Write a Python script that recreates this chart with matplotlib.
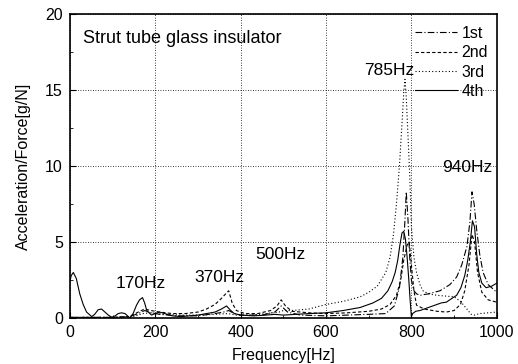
import matplotlib
matplotlib.use('Agg')
import matplotlib.pyplot as plt
from matplotlib.ticker import MultipleLocator

plt.rcParams['font.family'] = ['Liberation Sans', 'DejaVu Sans']

# 1st mode (dash-dot)
f1 = [0, 50, 100, 140, 160, 175, 190, 210, 250, 300, 340, 360, 372, 385, 400, 450,
      480, 495, 510, 540, 600, 650, 700, 740, 760, 772, 780, 785, 788, 792, 796, 800,
      806, 812, 820, 840, 867, 890, 906, 918, 930, 937, 942, 947, 953, 960, 968, 980, 1000]
v1 = [0.05, 0.05, 0.05, 0.1, 0.3, 0.5, 0.35, 0.25, 0.15, 0.15, 0.3, 0.4, 0.5, 0.3, 0.2, 0.2,
      0.4, 0.8, 0.4, 0.2, 0.15, 0.2, 0.25, 0.3, 0.8, 2.0, 4.0, 6.5, 8.3, 6.5, 4.0, 2.5,
      1.8, 1.6, 1.5, 1.6, 1.8, 2.2, 2.7, 3.5, 4.7, 6.3, 8.3, 7.5, 5.8, 4.2, 3.0, 2.2, 1.7]

# 2nd mode (dashed)
f2 = [0, 50, 100, 140, 160, 175, 190, 210, 240, 270, 300, 320, 340, 355, 365, 372,
      380, 390, 410, 440, 470, 485, 495, 505, 520, 560, 600, 650, 700, 730, 750, 765,
      775, 782, 790, 795, 800, 806, 812, 830, 860, 882, 900, 915, 925, 935, 942, 948,
      955, 965, 980, 1000]
v2 = [0.05, 0.05, 0.05, 0.1, 0.4, 0.6, 0.5, 0.4, 0.3, 0.3, 0.4, 0.6, 0.9, 1.3, 1.6, 1.8,
      1.0, 0.5, 0.3, 0.3, 0.5, 0.8, 1.2, 0.8, 0.45, 0.35, 0.3, 0.35, 0.45, 0.6, 0.9, 1.5,
      2.5, 3.8, 4.8, 5.0, 3.5, 1.8, 0.85, 0.6, 0.45, 0.4, 0.5, 0.9, 1.8, 3.5, 5.5, 5.0,
      3.0, 1.7, 1.2, 1.05]

# 3rd mode (dotted)
f3 = [0, 50, 100, 150, 170, 190, 220, 260, 300, 340, 370, 390, 420, 460, 490, 500,
      520, 560, 600, 640, 680, 700, 720, 740, 750, 758, 765, 772, 778, 782, 785, 788,
      792, 796, 800, 806, 812, 820, 827, 840, 860, 880, 900, 915, 930, 940, 948, 960,
      980, 1000]
v3 = [0.05, 0.05, 0.05, 0.1, 0.3, 0.35, 0.25, 0.2, 0.2, 0.25, 0.3, 0.2, 0.2, 0.3, 0.4, 0.5,
      0.5, 0.6, 0.9, 1.1, 1.4, 1.7, 2.1, 3.0, 4.0, 5.5, 7.5, 10.0, 12.8, 14.8, 15.7, 14.5,
      12.0, 9.5, 6.0, 4.0, 3.0, 2.2, 1.8, 1.6, 1.5, 1.45, 1.4, 1.1, 0.6, 0.25, 0.2, 0.3,
      0.35, 0.4]

# 4th mode (solid)
f4 = [0, 3, 8, 15, 23, 31, 39, 51, 58, 66, 74, 82, 90, 98, 106, 113, 121, 129, 135, 140,
      148, 156, 163, 170, 175, 180, 191, 200, 210, 222, 240, 260, 280, 300, 320, 340, 355,
      367, 375, 385, 400, 430, 460, 480, 500, 530, 560, 600, 640, 680, 710, 730, 745, 755,
      762, 768, 773, 778, 782, 786, 790, 794, 797, 800, 803, 810, 820, 835, 850, 870, 882,
      895, 906, 916, 925, 932, 938, 943, 948, 953, 958, 965, 975, 988, 1000]
v4 = [2.4, 2.8, 3.0, 2.6, 1.6, 0.9, 0.4, 0.1, 0.25, 0.55, 0.6, 0.4, 0.2, 0.05, 0.15, 0.3,
      0.35, 0.3, 0.15, 0.0, 0.3, 0.85, 1.2, 1.35, 1.0, 0.5, 0.2, 0.3, 0.4, 0.3, 0.15, 0.1,
      0.15, 0.2, 0.3, 0.4, 0.6, 0.8, 0.55, 0.3, 0.2, 0.15, 0.2, 0.25, 0.2, 0.25, 0.3, 0.35,
      0.5, 0.7, 1.0, 1.3, 1.8, 2.4, 3.0, 3.8, 4.8, 5.6, 5.7, 5.2, 4.0, 2.5, 1.2, 0.1, 0.3,
      0.45, 0.5, 0.65, 0.8, 1.0, 1.05, 1.3, 1.5, 2.0, 2.8, 3.8, 5.0, 6.4, 6.0, 4.2, 3.0,
      2.3, 2.0, 2.1, 2.3]

# peak labels: text, x, y
peak_labels = ['170Hz', '370Hz', '500Hz', '785Hz', '940Hz']
peak_x = [166, 351, 494, 747, 932]
peak_y = [2.3, 2.7, 4.2, 16.3, 9.9]

fig = plt.figure(figsize=(5.18, 3.64), dpi=100)
ax = fig.add_axes([0.135, 0.126, 0.824, 0.836])

ax.plot(f1, v1, color='k', lw=0.8, dashes=(6, 2, 1, 2), label='1st')
ax.plot(f2, v2, color='k', lw=0.8, dashes=(3, 2), label='2nd')
ax.plot(f3, v3, color='k', lw=0.8, dashes=(1, 2), label='3rd')
ax.plot(f4, v4, color='k', lw=0.8, label='4th')

ax.set_xlim(0, 1000)
ax.set_ylim(0, 20)
ax.xaxis.set_major_locator(MultipleLocator(200))
ax.xaxis.set_minor_locator(MultipleLocator(100))
ax.yaxis.set_major_locator(MultipleLocator(5))
ax.yaxis.set_minor_locator(MultipleLocator(2.5))
ax.tick_params(which='both', direction='in', labelsize=11.5)
ax.tick_params(which='major', length=4, pad=5)
ax.tick_params(which='minor', length=2)
ax.grid(True, which='major', color='k', linestyle=(0, (1, 2)), linewidth=0.6)
for s in ax.spines.values():
    s.set_linewidth(1.2)

ax.set_xlabel('Frequency[Hz]', fontsize=11.5, labelpad=6)
ax.set_ylabel('Acceleration/Force[g/N]', fontsize=11.5, labelpad=10)

ax.text(30, 18.4, 'Strut tube glass insulator', fontsize=13, va='center', ha='left')
for lab, x, y in zip(peak_labels, peak_x, peak_y):
    ax.text(x, y, lab, fontsize=12.5, ha='center', va='center')

ax.legend(loc='upper right', bbox_to_anchor=(1.0, 0.99), frameon=False,
          fontsize=11.5, handlelength=2.6, handletextpad=0.3, labelspacing=0.28,
          borderaxespad=0.15)

fig.savefig('out.png', dpi=100)
